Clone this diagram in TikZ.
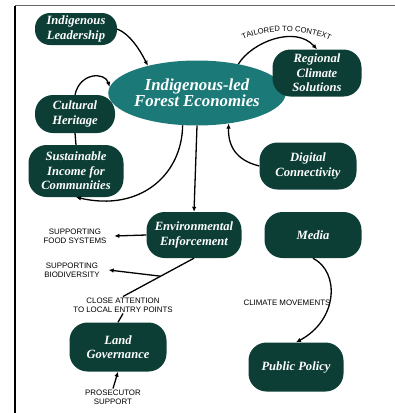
\documentclass[tikz,border=0pt]{standalone}
\usepackage{fontspec}
\setmainfont{Liberation Serif}
\setsansfont{Liberation Sans}
\usetikzlibrary{arrows.meta,decorations.text,shapes.geometric}
\definecolor{pine}{RGB}{12,62,53}
\definecolor{forestteal}{RGB}{27,122,120}
\tikzset{
	pill/.style={fill=pine, text=white, rounded corners=18pt, align=center, inner sep=0pt,
		font=\bfseries\itshape\fontsize{12.6}{14.5}\selectfont},
	hub/.style={ellipse, fill=forestteal, text=white, align=center, inner sep=0pt,
		font=\bfseries\itshape\fontsize{16.8}{16}\selectfont},
	tag/.style={align=center, inner sep=1pt, font=\sffamily\fontsize{7.9}{9}\selectfont},
	link/.style={line width=1.3pt, -{Latex[length=5pt,width=4.5pt]}},
	plain/.style={line width=1.3pt},
}

\begin{document}
\begin{tikzpicture}[x=1pt,y=-1pt]
			%%%%% START %%%%%
			\useasboundingbox (0,0) rectangle (395,413);
			\draw[gray!80!black, line width=1.5pt] (15,5.5) -- (395,5.5);
			\draw[line width=1.2pt] (15,5.5) -- (15,413);
			
			% boxes
			\node[hub, minimum width=149pt, minimum height=65pt] (forest) at (197,93) {Indigenous-led\\Forest Economies};
			\node[pill, minimum width=82pt, minimum height=32pt, rounded corners=15pt] (lead) at (76,29) {Indigenous\\Leadership};
			\node[pill, minimum width=89pt, minimum height=47pt] (region) at (317,73) {Regional\\Climate\\Solutions};
			\node[pill, minimum width=80pt, minimum height=38pt] (heritage) at (75,114) {Cultural\\Heritage};
			\node[pill, minimum width=95pt, minimum height=52pt] (income) at (76,171) {Sustainable\\Income for\\Communities};
			\node[pill, minimum width=97pt, minimum height=47pt] (digital) at (308,166) {Digital\\Connectivity};
			\node[pill, minimum width=95pt, minimum height=46pt] (enforce) at (194,235) {Environmental\\Enforcement};
			\node[pill, minimum width=97pt, minimum height=46pt] (media) at (313,235) {Media};
			\node[pill, minimum width=97pt, minimum height=49pt] (landgov) at (118,347) {Land\\Governance};
			\node[pill, minimum width=95pt, minimum height=49pt] (policy) at (296,367) {Public Policy};
			
			% labels
			\node[tag, outer sep=7pt] (food) at (75,236) {SUPPORTING\\FOOD SYSTEMS};
			\node[tag, outer sep=8pt] (biodiv) at (72,270) {SUPPORTING\\BIODIVERSITY};
			\node[tag] (attention) at (123,305) {CLOSE ATTENTION\\TO LOCAL ENTRY POINTS};
			\node[tag] (climate) at (287,303) {CLIMATE MOVEMENTS};
			\node[tag] (prosecutor) at (113,397) {PROSECUTOR\\SUPPORT};
			
			% arrows
			\draw[link] (lead.east) .. controls (130,34) and (140,50) .. (forest.151);
			\draw[link] (heritage.north) .. controls (80,72) and (105,72) .. (forest.176);
			\draw[plain] (heritage.south) -- (income.north);
			\draw[link] (forest.246) .. controls (182,175) and (140,212) .. (income.south);
			\draw[link] (forest.south) -- (enforce.north);
			\draw[link] (digital.west) .. controls (235,160) and (228,145) .. (forest.316);
			\draw[link] (forest.35) .. controls (252,42) and (295,25) .. (region.north);
			\draw[decorate, decoration={text along path, text align=center,
				text={|\sffamily\fontsize{7.6}{9}\selectfont|TAILORED TO CONTEXT}}]
				(240,41) .. controls (265,28) and (308,28) .. (333,42);
			\draw[link] (enforce.west) -- (food.east);
			\draw[plain] (enforce.south) -- coordinate[pos=.47] (fork) (attention.north);
			\draw[link] (fork) -- (biodiv.east);
			\draw[plain] (attention.south) -- (landgov.north);
			\draw[link] (media.south) .. controls (340,272) and (338,320) .. (policy.north);
			\draw[link] (prosecutor.north) -- (landgov.south);
			%%%%% END %%%%%
\end{tikzpicture}
\end{document}
